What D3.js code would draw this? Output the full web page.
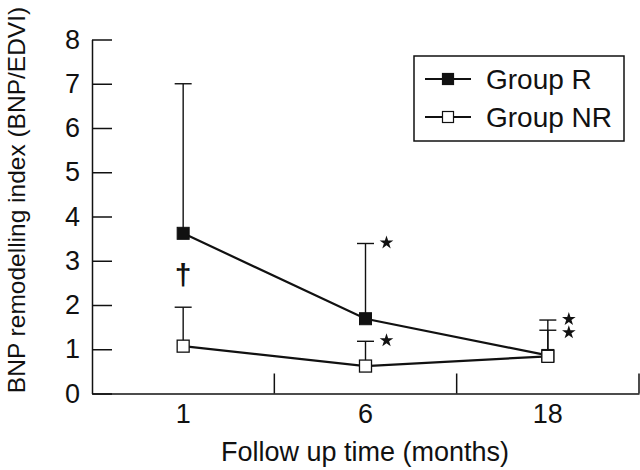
<!DOCTYPE html>
<html>
<head>
<meta charset="utf-8">
<script src="https://cdn.jsdelivr.net/npm/d3@7"></script>
<style>
  html, body { margin: 0; padding: 0; background: #fff; }
  svg { display: block; }
  text { font-family: "Liberation Sans", Arial, sans-serif; fill: #111; }
</style>
</head>
<body>
<svg id="chart" width="640" height="470"></svg>
<script>
// ---- data ----
const categories = ["1", "6", "18"];
const yTicks = [0, 1, 2, 3, 4, 5, 6, 7, 8];
const groupR = [3.62, 1.69, 0.86];
const groupRUpper = [7.0, 3.39, 1.66];
const groupNR = [1.07, 0.62, 0.84];
const groupNRUpper = [1.95, 1.18, 1.43];
const seriesNames = ["Group R", "Group NR"];
const daggerCats = ["1"];
const daggerValues = [2.68];
const starCats = ["6", "6", "18", "18"];
const starValues = [3.41, 1.2, 1.68, 1.38];

const xLabel = "Follow up time (months)";
const yLabel = "BNP remodelling index (BNP/EDVI)";

// ---- layout ----
const svg = d3.select("#chart");
const mLeft = 92, mRight = 639, mTop = 39.5, mBottom = 393.5;

const x = d3.scaleBand().domain(categories).range([mLeft, mRight]);
const y = d3.scaleLinear().domain([0, 8]).range([mBottom, mTop]);
const cx = d => x(d) + x.bandwidth() / 2;

const ink = "#111";
const font = "Liberation Sans, Arial, sans-serif";

// y axis
const yAxis = d3.axisLeft(y).tickValues(yTicks).tickFormat(d3.format("d"))
  .tickSizeInner(-20).tickSizeOuter(0).tickPadding(12);
const gy = svg.append("g").attr("transform", `translate(${mLeft},0)`).call(yAxis);
gy.select(".domain").attr("stroke", ink).attr("stroke-width", 1.5);
gy.selectAll(".tick line").attr("stroke", ink).attr("stroke-width", 1.5);
gy.selectAll(".tick text").attr("font-size", 27).attr("fill", ink).attr("font-family", font);

// x axis (labels at centers, ticks at band boundaries)
const xAxis = d3.axisBottom(x).tickSize(0).tickSizeOuter(0).tickPadding(10);
const gx = svg.append("g").attr("transform", `translate(0,${mBottom})`).call(xAxis);
gx.select(".domain").attr("stroke", ink).attr("stroke-width", 1.5);
gx.selectAll(".tick text").attr("font-size", 27).attr("fill", ink).attr("font-family", font);
svg.append("g").selectAll("line").data(categories).join("line")
  .attr("x1", d => x(d) + x.bandwidth()).attr("x2", d => x(d) + x.bandwidth())
  .attr("y1", mBottom).attr("y2", mBottom - 20)
  .attr("stroke", ink).attr("stroke-width", 1.5);

// axis titles
svg.append("text").attr("x", (222 + 508) / 2).attr("y", 461)
  .attr("text-anchor", "middle").attr("font-size", 27).text(xLabel);
svg.append("text").attr("transform", "translate(25,200) rotate(-90)")
  .attr("text-anchor", "middle").attr("font-size", 24.5).text(yLabel);

// error bars
const capW = 17;
function errorBars(vals, upper) {
  const g = svg.append("g").attr("stroke", ink).attr("stroke-width", 1.4);
  const data = categories.map((c, i) => ({ c, v: vals[i], u: upper[i] }));
  g.selectAll(".v").data(data).join("line")
    .attr("x1", d => cx(d.c)).attr("x2", d => cx(d.c))
    .attr("y1", d => y(d.v)).attr("y2", d => y(d.u));
  g.selectAll(".cap").data(data).join("line")
    .attr("x1", d => cx(d.c) - capW / 2).attr("x2", d => cx(d.c) + capW / 2)
    .attr("y1", d => y(d.u)).attr("y2", d => y(d.u));
}
errorBars(groupR, groupRUpper);
errorBars(groupNR, groupNRUpper);

// lines
const line = d3.line().x((d, i) => cx(categories[i])).y(d => y(d));
svg.append("path").datum(groupR).attr("d", line)
  .attr("fill", "none").attr("stroke", ink).attr("stroke-width", 2.2);
svg.append("path").datum(groupNR).attr("d", line)
  .attr("fill", "none").attr("stroke", ink).attr("stroke-width", 2.2);

// markers (open squares on top, as in the reference at 18 months)
const ms = 12;
svg.append("g").selectAll("rect").data(groupR).join("rect")
  .attr("x", (d, i) => cx(categories[i]) - ms / 2).attr("y", d => y(d) - ms / 2)
  .attr("width", ms).attr("height", ms)
  .attr("fill", ink).attr("stroke", ink).attr("stroke-width", 1);
svg.append("g").selectAll("rect").data(groupNR).join("rect")
  .attr("x", (d, i) => cx(categories[i]) - ms / 2).attr("y", d => y(d) - ms / 2)
  .attr("width", ms).attr("height", ms)
  .attr("fill", "#fff").attr("stroke", ink).attr("stroke-width", 1.3);

// annotations
svg.append("g").selectAll("text").data(daggerCats).join("text")
  .attr("x", d => cx(d)).attr("y", (d, i) => y(daggerValues[i]))
  .attr("text-anchor", "middle").attr("dominant-baseline", "central")
  .attr("font-size", 30).attr("font-weight", "bold").text("†");
const star = d3.symbol().type(d3.symbolStar).size(58);
svg.append("g").selectAll("path").data(starCats).join("path")
  .attr("transform", (d, i) => `translate(${cx(d) + 21},${y(starValues[i])})`)
  .attr("d", star).attr("fill", ink);

// legend
const lg = svg.append("g");
lg.append("rect").attr("x", 414).attr("y", 56).attr("width", 210).attr("height", 85)
  .attr("fill", "#fff").attr("stroke", ink).attr("stroke-width", 1.5);
const rowsY = [79, 117];
seriesNames.forEach((name, i) => {
  lg.append("line").attr("x1", 425).attr("x2", 471).attr("y1", rowsY[i]).attr("y2", rowsY[i])
    .attr("stroke", ink).attr("stroke-width", 2);
  lg.append("rect").attr("x", 448 - 5.5).attr("y", rowsY[i] - 5.5).attr("width", 11).attr("height", 11)
    .attr("fill", i === 0 ? ink : "#fff").attr("stroke", ink).attr("stroke-width", 1.2);
  lg.append("text").attr("x", 486).attr("y", rowsY[i]).attr("dominant-baseline", "central")
    .attr("font-size", 28).text(name);
});
</script>
</body>
</html>
